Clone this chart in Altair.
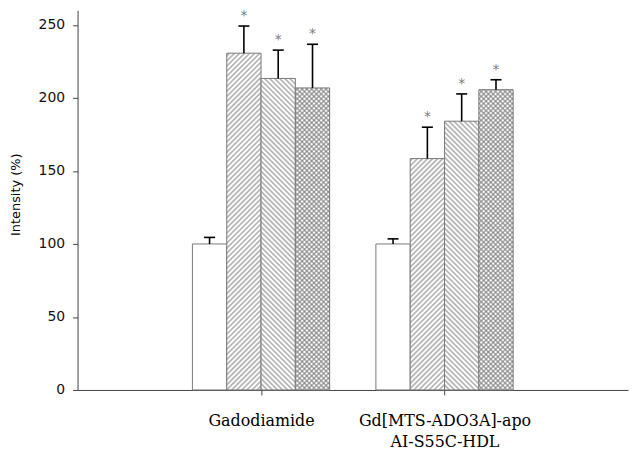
import json
import jinja2
import pandas as pd
import altair as alt

# ---- data ----
group_labels = [["Gadodiamide"], ["Gd[MTS-ADO3A]-apo", "AI-S55C-HDL"]]
group_pos = [1, 2]
series = ["Series 1", "Series 2", "Series 3", "Series 4"]
means_gado = [100, 230.7, 213.4, 206.9]
errs_gado = [4.5, 18.6, 19.4, 29.9]
means_gd = [100, 158.5, 184.1, 205.7]
errs_gd = [3.5, 21.5, 18.7, 6.8]
star_gado = ["", "*", "*", "*"]
star_gd = ["", "*", "*", "*"]
y_ticks = [0, 50, 100, 150, 200, 250]

# ---- style constants ----
BW = 0.187      # bar width in x units
CAP = 0.06      # cap width in x units
fills = ["white", "url(#hatchA)", "url(#hatchB)", "url(#hatchC)"]

rows = []
for gi, means, errs, stars in [(group_pos[0], means_gado, errs_gado, star_gado),
                               (group_pos[1], means_gd, errs_gd, star_gd)]:
    for si, (s, m, e, st) in enumerate(zip(series, means, errs, stars)):
        rows.append(dict(gi=gi, si=si, series=s, value=m, err=e, star=st))
df = pd.DataFrame(rows)

base = alt.Chart(df).transform_calculate(
    x0=f"datum.gi + (datum.si - 2) * {BW}",
).transform_calculate(
    x1=f"datum.x0 + {BW}",
    xc=f"datum.x0 + {BW / 2}",
    top="datum.value + datum.err",
).transform_calculate(
    cl=f"datum.xc - {CAP / 2}",
    cr=f"datum.xc + {CAP / 2}",
)

label_expr = " : ".join(
    f"datum.value == {p} ? {json.dumps(l)}" for p, l in zip(group_pos, group_labels)
) + " : ''"

xscale = alt.Scale(domain=[0, 3], nice=False, zero=False)
yscale = alt.Scale(domain=[0, 260], nice=False)

x_axis = alt.Axis(
    values=group_pos, labelExpr=label_expr, title=None, grid=False,
    tickSize=5, labelPadding=18, labelFont="DejaVu Serif", labelFontSize=16,
    labelLineHeight=21, labelColor="black", domainColor="#444", tickColor="#444",
    labelBaseline="top", labelOverlap=False, labelFlush=False,
)
y_axis = alt.Axis(
    values=y_ticks, title="Intensity (%)", grid=False,
    titleFont="DejaVu Sans", titleFontSize=13, titleFontWeight="normal",
    titleColor="black", titleX=-62, titleY=185, titleBaseline="middle",
    titleAlign="center", titleAngle=270,
    labelFont="DejaVu Sans", labelFontSize=14, labelPadding=8, labelColor="#111",
    tickSize=5, domainColor="#444", tickColor="#444",
)

bars = base.mark_rect(stroke="#7a7a7a", strokeWidth=1).encode(
    x=alt.X("x0:Q", scale=xscale, axis=x_axis),
    x2="x1:Q",
    y=alt.Y("value:Q", scale=yscale, axis=y_axis),
    y2=alt.datum(0),
    fill=alt.Fill("series:N", scale=alt.Scale(domain=series, range=fills), legend=None),
)

err_line = base.mark_rule(color="black", strokeWidth=1.6).encode(
    x="xc:Q", y="value:Q", y2="top:Q",
)
caps = base.mark_rule(color="black", strokeWidth=1.6).encode(
    x="cl:Q", x2="cr:Q", y="top:Q",
)
stars = base.mark_text(
    font="DejaVu Sans", fontSize=14, color="#7d7d7d", dy=-6, baseline="alphabetic",
).encode(
    x="xc:Q", y="top:Q", text="star:N",
)

chart = alt.layer(bars, err_line, caps, stars).properties(
    width=554, height=382,
    autosize=alt.AutoSizeParams(type="none"),
    padding={"left": 70, "top": 1, "right": 2, "bottom": 60},
).configure_view(stroke=None)

TEMPLATE = jinja2.Template("""<!DOCTYPE html>
<html>
<head>
  <style>
    html, body { overflow: hidden; }
    #{{ output_div }}.vega-embed { width: 100%; display: flex; }
  </style>
  <script type="text/javascript" src="{{ base_url }}/vega@{{ vega_version }}"></script>
  <script type="text/javascript" src="{{ base_url }}/vega-lite@{{ vegalite_version }}"></script>
  <script type="text/javascript" src="{{ base_url }}/vega-embed@{{ vegaembed_version }}"></script>
</head>
<body>
  <svg width="0" height="0" style="position:absolute">
    <defs>
      <pattern id="hatchA" patternUnits="userSpaceOnUse" width="3.6" height="3.6" patternTransform="rotate(45)">
        <rect width="3.6" height="3.6" fill="white"/>
        <line x1="1.8" y1="-1" x2="1.8" y2="5" stroke="#8a8a8a" stroke-width="1.1"/>
      </pattern>
      <pattern id="hatchB" patternUnits="userSpaceOnUse" width="3.6" height="3.6" patternTransform="rotate(-45)">
        <rect width="3.6" height="3.6" fill="white"/>
        <line x1="1.8" y1="-1" x2="1.8" y2="5" stroke="#8a8a8a" stroke-width="1.1"/>
      </pattern>
      <pattern id="hatchC" patternUnits="userSpaceOnUse" width="3.4" height="3.4" patternTransform="rotate(45)">
        <rect width="3.4" height="3.4" fill="white"/>
        <line x1="1.7" y1="-1" x2="1.7" y2="5" stroke="#707070" stroke-width="0.9"/>
        <line x1="-1" y1="1.7" x2="5" y2="1.7" stroke="#707070" stroke-width="0.9"/>
      </pattern>
    </defs>
  </svg>
  <div id="{{ output_div }}"></div>
  <script type="text/javascript">
    (function(vegaEmbed) {
      var spec = {{ spec }};
      var embedOpt = {{ embed_options }};
      var el = document.getElementById('{{ output_div }}');
      vegaEmbed("#{{ output_div }}", spec, embedOpt).catch(function(error) {
        el.innerHTML = '<div style="color:red;">' + error.message + '</div>';
      });
    })(vegaEmbed);
  </script>
</body>
</html>
""")

chart.save("out.html", embed_options={"renderer": "svg", "actions": False}, template=TEMPLATE)
